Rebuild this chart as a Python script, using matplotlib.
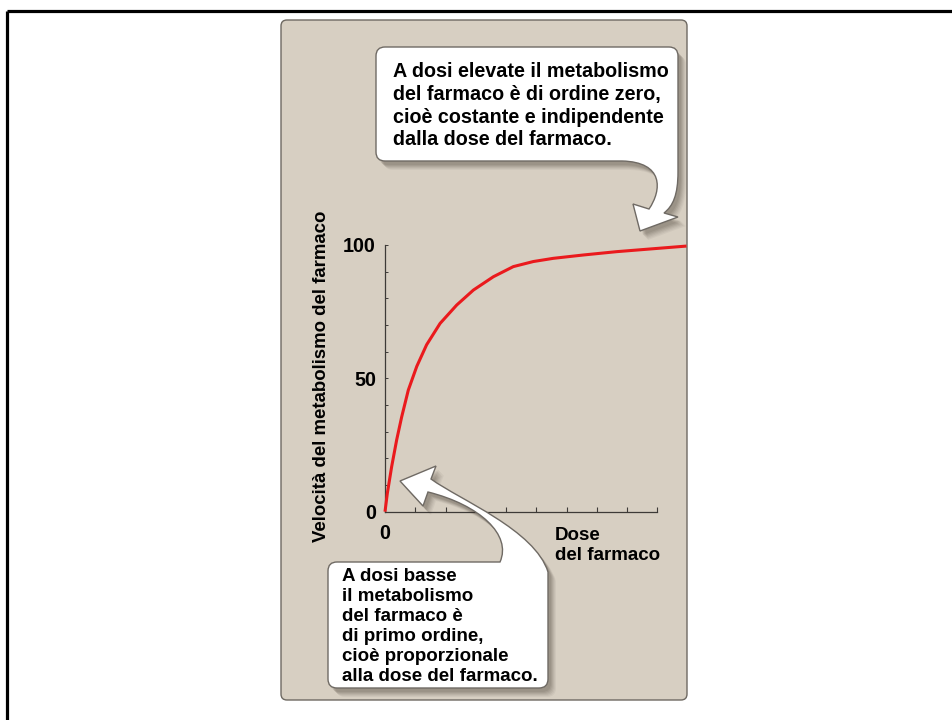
import matplotlib
matplotlib.use("Agg")
import matplotlib.pyplot as plt
from matplotlib.path import Path
from matplotlib.patches import PathPatch, FancyBboxPatch
from matplotlib.lines import Line2D

# ---------------- data ----------------
dose = [0, 0.077, 0.22, 0.385, 0.55, 0.77, 1.05, 1.375, 1.82, 2.37, 2.92,
        3.58, 4.24, 4.9, 5.56, 6.55, 7.65, 8.75, 9.96]
rate = [0, 6.9, 16.9, 26.9, 35.5, 45.6, 54.5, 62.6, 70.6, 77.5, 83.1,
        88.1, 91.9, 93.8, 95.0, 96.25, 97.5, 98.5, 99.6]
x_ticks = list(range(10))
x_tick_labels = ["0"] + [""] * 9
y_major = [0, 50, 100]
y_minor = list(range(0, 101, 10))
y_label = "Velocità del metabolismo del farmaco"
x_label_lines = ["Dose", "del farmaco"]
high_text = ["A dosi elevate il metabolismo",
             "del farmaco è di ordine zero,",
             "cioè costante e indipendente",
             "dalla dose del farmaco."]
low_text = ["A dosi basse",
            "il metabolismo",
            "del farmaco è",
            "di primo ordine,",
            "cioè proporzionale",
            "alla dose del farmaco."]

FONT = ["Liberation Sans", "DejaVu Sans"]
W, H = 952, 720
fig = plt.figure(figsize=(W / 100, H / 100), dpi=100)


def px_axes(z):
    a = fig.add_axes([0, 0, 1, 1], zorder=z)
    a.set_xlim(0, W)
    a.set_ylim(H, 0)
    a.axis("off")
    a.patch.set_alpha(0)
    return a


# ---------------- background panel ----------------
bg = px_axes(0)
bg.add_line(Line2D([7, W + 5], [11, 11], color="black", lw=2.3, solid_capstyle="butt"))
bg.add_line(Line2D([7, 7], [11, H + 5], color="black", lw=2.3, solid_capstyle="butt"))
bg.add_patch(FancyBboxPatch((281, 20), 406, 680,
                            boxstyle="round,pad=0,rounding_size=6",
                            fc="#d7cfc2", ec="#6e6962", lw=1.0))

# ---------------- plot axes ----------------
ax = fig.add_axes([385 / W, 1 - 511.7 / H, 302.7 / W, 266.7 / H], zorder=1)
ax.patch.set_alpha(0)
ax.plot(dose, rate, color="#ea1a1d", lw=2.2, clip_on=False,
        solid_joinstyle="round", solid_capstyle="butt", zorder=3)
ax.set_xlim(0, 10)
ax.set_ylim(0, 100)
for s in ("top", "right"):
    ax.spines[s].set_visible(False)
ax.spines["bottom"].set_bounds(0, 9)
ax.spines["left"].set_bounds(0, 100)
for s in ("bottom", "left"):
    ax.spines[s].set_color("#3d3a37")
    ax.spines[s].set_linewidth(0.9)
ax.set_xticks(x_ticks)
ax.set_xticklabels(x_tick_labels)
ax.set_yticks(y_major)
ax.set_yticks(y_minor, minor=True)
ax.tick_params(axis="x", direction="in", length=3.6, width=0.8, color="#3d3a37", pad=8.5)
ax.tick_params(axis="y", which="both", direction="in", length=2.2, width=0.7,
               color="#3d3a37", pad=6.5)
for lab in ax.get_xticklabels() + ax.get_yticklabels():
    lab.set_fontfamily(FONT)
    lab.set_fontweight("bold")
    lab.set_fontsize(14.2)

# ---------------- overlay: labels and callouts ----------------
ov = px_axes(2)
ov.text(322, 376.5, y_label, rotation=90, ha="center", va="center",
        fontsize=13.4, fontweight="bold", family=FONT)
for i, t in enumerate(x_label_lines):
    ov.text(555, 540 + 19.5 * i, t, ha="left", va="baseline",
            fontsize=13.5, fontweight="bold", family=FONT)

M, L_, C3, C4, CL = Path.MOVETO, Path.LINETO, Path.CURVE3, Path.CURVE4, Path.CLOSEPOLY

# top callout (box + curved arrow going down)
L, R, T, B, r = 376, 678, 47, 161, 9
top_verts = [(L + r, T), (R - r, T), (R, T), (R, T + r), (R, 172),
             (R, 195), (673, 206), (664, 213),
             (678, 217), (640, 231), (633, 204), (649, 209),
             (662, 190), (664, 162), (622, B),
             (L + r, B), (L, B), (L, B - r), (L, T + r), (L, T), (L + r, T), (L + r, T)]
top_codes = [M, L_, C3, C3, L_,
             C4, C4, C4,
             L_, L_, L_, L_,
             C4, C4, C4,
             L_, C3, C3, L_, C3, C3, CL]

# bottom callout (box + curved arrow going up-left)
L, R, T, B, r = 328, 548, 562, 688, 9
bot_verts = [(L + r, T), (500, T),
             (512, 535), (480, 505), (428, 492),
             (423, 506), (400, 481), (436, 466), (431, 479),
             (460, 500), (535, 530), (R, 572),
             (R, B - r), (R, B), (R - r, B), (L + r, B), (L, B), (L, B - r),
             (L, T + r), (L, T), (L + r, T), (L + r, T)]
bot_codes = [M, L_,
             C4, C4, C4,
             L_, L_, L_, L_,
             C4, C4, C4,
             L_, C3, C3, L_, C3, C3,
             L_, C3, C3, CL]


def draw_callout(verts, codes):
    # soft shadow
    for dx, dy, a in [(8, 9, 0.05), (7, 8, 0.06), (6, 7, 0.07), (5, 6, 0.08),
                      (4, 5, 0.09), (3, 4, 0.09)]:
        sv = [(x + dx, y + dy) for x, y in verts]
        ov.add_patch(PathPatch(Path(sv, codes), fc="#3a3026", ec="none",
                               alpha=a, zorder=1))
    ov.add_patch(PathPatch(Path(verts, codes), fc="white", ec="#6f6a64",
                           lw=1.0, zorder=2))


draw_callout(top_verts, top_codes)
draw_callout(bot_verts, bot_codes)

for i, t in enumerate(high_text):
    ov.text(393, 77 + 22.8 * i, t, ha="left", va="baseline", fontsize=14.2,
            fontweight="bold", family=FONT, zorder=3)
for i, t in enumerate(low_text):
    ov.text(342, 581 + 20 * i, t, ha="left", va="baseline", fontsize=13.5,
            fontweight="bold", family=FONT, zorder=3)

fig.savefig("out.png", dpi=100)
